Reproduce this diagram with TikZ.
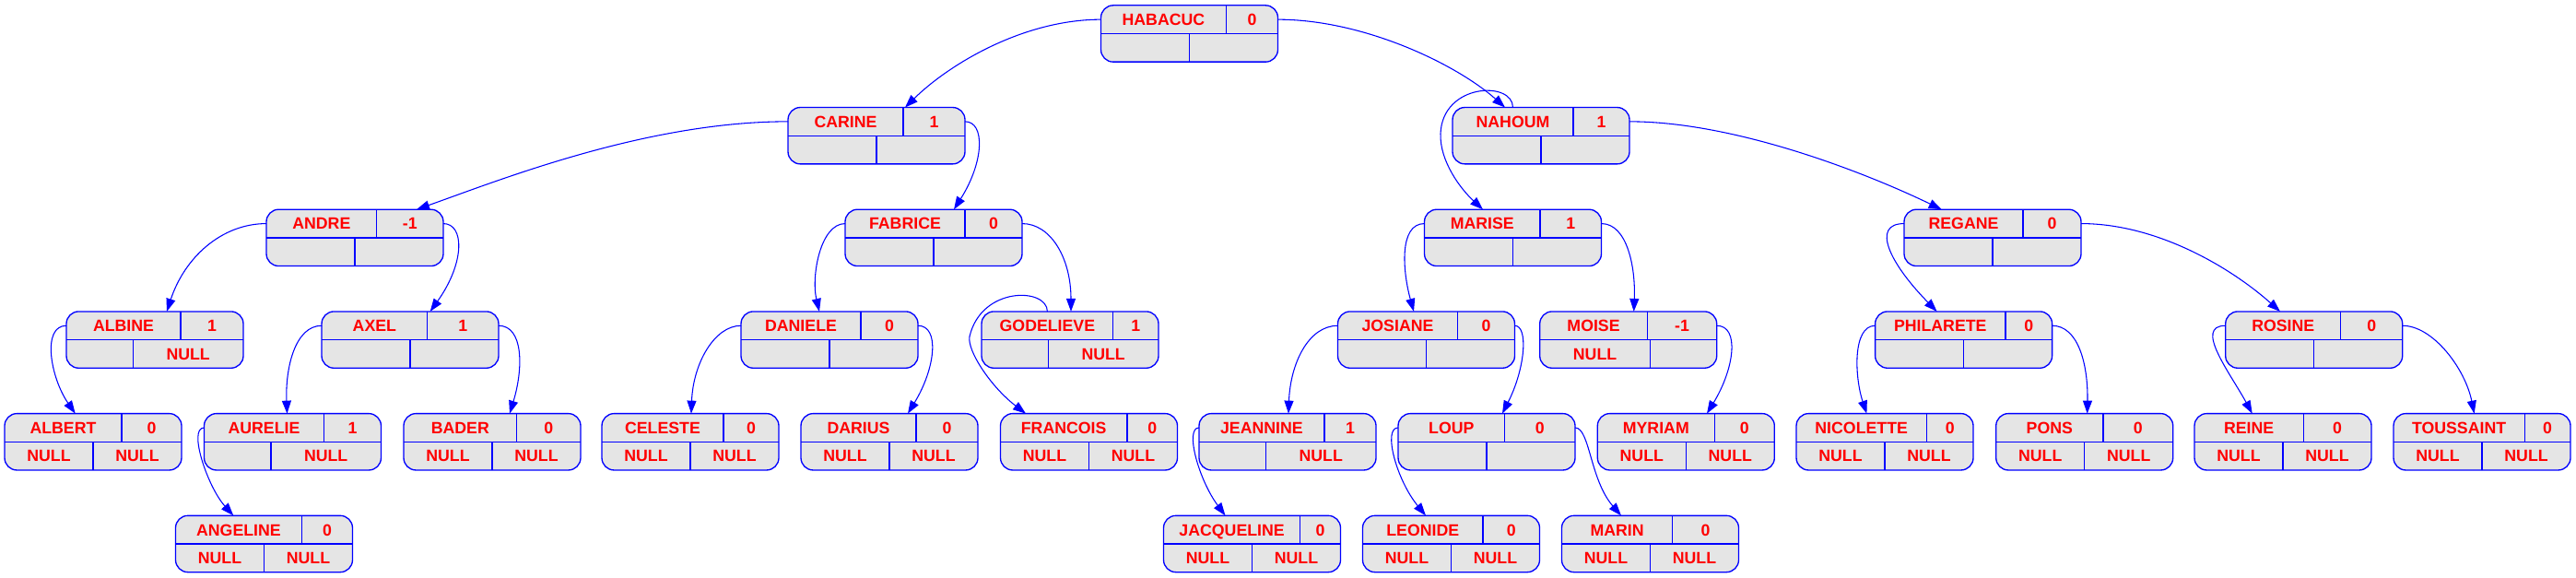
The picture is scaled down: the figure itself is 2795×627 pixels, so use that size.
\documentclass[tikz,border=0pt]{standalone}
\usepackage{fontspec}
\setmainfont{Liberation Sans}
\usetikzlibrary{calc}
\usetikzlibrary{arrows.meta}

\definecolor{recfill}{RGB}{229,229,229}
\newsavebox\recbox
\newcommand\recfont{\fontsize{13.3}{15}\selectfont\bfseries}
% text widths, measured before the picture
\newcommand\recmeasure[1]{\sbox\recbox{\recfont #1}%
  \expandafter\xdef\csname recwd@#1\endcsname{\the\wd\recbox}}
\newcommand\recwd[1]{\ifcsname recwd@#1\endcsname\csname recwd@#1\endcsname\else 0pt\fi}

% record: id, x, y, name, balance, left, right
\newcommand\avlrec[7]{%
  \edef\cuttop{\the\dimexpr(144pt+\recwd{#4}-\recwd{#5})/2\relax}%
  \edef\cutbot{\the\dimexpr(144pt+\recwd{#6}-\recwd{#7})/2\relax}%
  \edef\namex{\the\dimexpr(144pt+\recwd{#4}-\recwd{#5})/4\relax}%
  \edef\balx{\the\dimexpr(432pt+\recwd{#4}-\recwd{#5})/4\relax}%
  \edef\leftx{\the\dimexpr(144pt+\recwd{#6}-\recwd{#7})/4\relax}%
  \edef\rightx{\the\dimexpr(432pt+\recwd{#6}-\recwd{#7})/4\relax}%
  \node[rec] (#1) at (#2,#3) {};
  \coordinate (#1-w) at ($(#1.north west)!.5!(#1.west)$);
  \coordinate (#1-e) at ($(#1.north east)!.5!(#1.east)$);
  \coordinate (#1-b) at ($(#1.west)!.5!(#1.south west)$);
  \coordinate (#1-n) at ($(#1.north west)+(\namex,0pt)$);
  \draw[sep] (#1.west) -- (#1.east);
  \draw[sep] ($(#1.north west)+(\cuttop,0pt)$) -- ($(#1.west)+(\cuttop,0pt)$);
  \draw[sep] ($(#1.west)+(\cutbot,0pt)$) -- ($(#1.south west)+(\cutbot,0pt)$);
  \node[lbl] (#1-name) at ($(#1-w)+(\namex,0pt)$) {#4};
  \node[lbl] (#1-bal) at ($(#1-w)+(\balx,0pt)$) {#5};
  \node[lbl] (#1-left) at ($(#1-b)+(\leftx,0pt)$) {#6};
  \node[lbl] (#1-right) at ($(#1-b)+(\rightx,0pt)$) {#7};
}

\begin{document}
\foreach \t in {HABACUC,CARINE,NAHOUM,ANDRE,FABRICE,MARISE,REGANE,ALBINE,AXEL,DANIELE,
  GODELIEVE,JOSIANE,MOISE,PHILARETE,ROSINE,ALBERT,AURELIE,BADER,CELESTE,DARIUS,
  FRANCOIS,JEANNINE,LOUP,MYRIAM,NICOLETTE,PONS,REINE,TOUSSAINT,ANGELINE,JACQUELINE,
  LEONIDE,MARIN,0,1,-1,NULL} {\recmeasure{\t}}%
\begin{tikzpicture}[x=0.75pt, y=-0.75pt,
    rec/.style = {draw=blue, fill=recfill, rounded corners=10pt, minimum width=144pt,
                  minimum height=46pt, inner sep=0pt, outer sep=0pt, line width=1pt},
    sep/.style = {draw=blue, line width=1pt},
    lbl/.style = {text=red, font=\recfont, inner sep=0pt, text height=9.5pt, text depth=0pt},
    link/.style = {draw=blue, line width=0.8pt, ->, >={Triangle[length=10.5pt,width=7.5pt]}}]
  \useasboundingbox (0,0) rectangle (2795,627);

  \avlrec{habacuc}{1290.5}{36.5}{HABACUC}{0}{}{}
  \avlrec{carine}{951}{147.2}{CARINE}{1}{}{}
  \avlrec{nahoum}{1672}{147.2}{NAHOUM}{1}{}{}
  \avlrec{andre}{385}{257.9}{ANDRE}{-1}{}{}
  \avlrec{fabrice}{1013}{257.9}{FABRICE}{0}{}{}
  \avlrec{marise}{1641.5}{257.9}{MARISE}{1}{}{}
  \avlrec{regane}{2162}{257.9}{REGANE}{0}{}{}
  \avlrec{albine}{168}{368.6}{ALBINE}{1}{}{NULL}
  \avlrec{axel}{445}{368.6}{AXEL}{1}{}{}
  \avlrec{daniele}{900}{368.6}{DANIELE}{0}{}{}
  \avlrec{godelieve}{1161}{368.6}{GODELIEVE}{1}{}{NULL}
  \avlrec{josiane}{1547.5}{368.6}{JOSIANE}{0}{}{}
  \avlrec{moise}{1766.7}{368.6}{MOISE}{-1}{NULL}{}
  \avlrec{philarete}{2130.6}{368.6}{PHILARETE}{0}{}{}
  \avlrec{rosine}{2510.7}{368.6}{ROSINE}{0}{}{}
  \avlrec{albert}{101}{479.3}{ALBERT}{0}{NULL}{NULL}
  \avlrec{aurelie}{317.5}{479.3}{AURELIE}{1}{}{NULL}
  \avlrec{bader}{534}{479.3}{BADER}{0}{NULL}{NULL}
  \avlrec{celeste}{749}{479.3}{CELESTE}{0}{NULL}{NULL}
  \avlrec{darius}{965}{479.3}{DARIUS}{0}{NULL}{NULL}
  \avlrec{francois}{1181.5}{479.3}{FRANCOIS}{0}{NULL}{NULL}
  \avlrec{jeannine}{1397}{479.3}{JEANNINE}{1}{}{NULL}
  \avlrec{loup}{1613}{479.3}{LOUP}{0}{}{}
  \avlrec{myriam}{1829.3}{479.3}{MYRIAM}{0}{NULL}{NULL}
  \avlrec{nicolette}{2045}{479.3}{NICOLETTE}{0}{NULL}{NULL}
  \avlrec{pons}{2261.7}{479.3}{PONS}{0}{NULL}{NULL}
  \avlrec{reine}{2477}{479.3}{REINE}{0}{NULL}{NULL}
  \avlrec{toussaint}{2693}{479.3}{TOUSSAINT}{0}{NULL}{NULL}
  \avlrec{angeline}{286.5}{590}{ANGELINE}{0}{NULL}{NULL}
  \avlrec{jacqueline}{1358.5}{590}{JACQUELINE}{0}{NULL}{NULL}
  \avlrec{leonide}{1574.5}{590}{LEONIDE}{0}{NULL}{NULL}
  \avlrec{marin}{1790.5}{590}{MARIN}{0}{NULL}{NULL}

  % links to the children
  \draw[link] (habacuc-w) .. controls +(-84,0) and +(48,-47) .. ($(carine.north west)+(127,0)$);
  \draw[link] (habacuc-e) .. controls +(93,0) and +(-53,-47) .. ($(nahoum.north west)+(57,0)$);
  \draw[link] (carine-w) .. controls +(-155,0) and +(88,-31) .. ($(andre.north west)+(163,0)$);
  \draw[link] (carine-e) .. controls +(22,0) and +(33,-52) .. ($(fabrice.north west)+(118,0)$);
  \draw[link] (nahoum-n) .. controls +(0,-29) and +(2,-55) .. (1563,145)
                         .. controls +(-1,30) and +(-24,-22) .. ($(marise.north west)+(63.5,0)$);
  \draw[link] (nahoum-e) .. controls +(112,0) and +(-87,-42) .. ($(regane.north west)+(40.7,0)$);
  \draw[link] (andre-w) .. controls +(-49,0) and +(19,-58) .. ($(albine.north west)+(109,0)$);
  \draw[link] (andre-e) .. controls +(23,0) and +(38,-53) .. ($(axel.north west)+(117.7,0)$);
  \draw[link] (fabrice-w) .. controls +(-27,0) and +(-9,-38) .. ($(daniele.north west)+(85,0)$);
  \draw[link] (fabrice-e) .. controls +(31,0) and +(0,-58) .. ($(godelieve.north west)+(97,0)$);
  \draw[link] (marise-w) .. controls +(-28,0) and +(-12,-43) .. ($(josiane.north west)+(82.5,0)$);
  \draw[link] (marise-e) .. controls +(28,0) and +(2,-48) .. ($(moise.north west)+(102,0)$);
  \draw[link] (regane-w) .. controls +(-36,0) and +(-52,-53) .. ($(philarete.north west)+(67,0)$);
  \draw[link] (regane-e) .. controls +(82,0) and +(-54,-48) .. ($(rosine.north west)+(59.3,0)$);
  \draw[link] (albine-w) .. controls +(-27,0) and +(-27,-39) .. ($(albert.north west)+(76.7,0)$);
  \draw[link] (axel-w) .. controls +(-29,0) and +(-2,-49) .. ($(aurelie.north west)+(90,0)$);
  \draw[link] (axel-e) .. controls +(27,0) and +(15,-49) .. ($(bader.north west)+(115,0)$);
  \draw[link] (daniele-w) .. controls +(-29,0) and +(2,-54) .. ($(celeste.north west)+(97,0)$);
  \draw[link] (daniele-e) .. controls +(24,0) and +(30,-49) .. ($(darius.north west)+(116,0)$);
  \draw[link] (godelieve-n) .. controls +(0,-26) and +(13,-55) .. (1052,365)
                            .. controls +(-3,15) and +(-38,-29) .. ($(francois.north west)+(27.5,0)$);
  \draw[link] (josiane-w) .. controls +(-32,0) and +(2,-54) .. ($(jeannine.north west)+(97,0)$);
  \draw[link] (josiane-e) .. controls +(15,0) and +(25,-49) .. ($(loup.north west)+(113,0)$);
  \draw[link] (moise-e) .. controls +(25,0) and +(30,-49) .. ($(myriam.north west)+(118.7,0)$);
  \draw[link] (philarete-w) .. controls +(-25,0) and +(-13,-39) .. ($(nicolette.north west)+(76.4,0)$);
  \draw[link] (philarete-e) .. controls +(28,0) and +(1,-54) .. ($(pons.north west)+(99,0)$);
  \draw[link] (rosine-w) .. controls +(-35,0) and +(-24,-44) .. ($(reine.north west)+(62.7,0)$);
  \draw[link] (rosine-e) .. controls +(33,0) and +(-10,-49) .. ($(toussaint.north west)+(87.6,0)$);
  \draw[link] (aurelie-w) .. controls +(-18,0) and +(-28,-31) .. ($(angeline.north west)+(62.8,0)$);
  \draw[link] (jeannine-w) .. controls +(-16,0) and +(-29,-39) .. ($(jacqueline.north west)+(67,0)$);
  \draw[link] (loup-w) .. controls +(-17,0) and +(-32,-39) .. ($(leonide.north west)+(68.5,0)$);
  \draw[link] (loup-e) .. controls +(16,0) and +(-34,-39) .. ($(marin.north west)+(64.5,0)$);
\end{tikzpicture}
\end{document}
